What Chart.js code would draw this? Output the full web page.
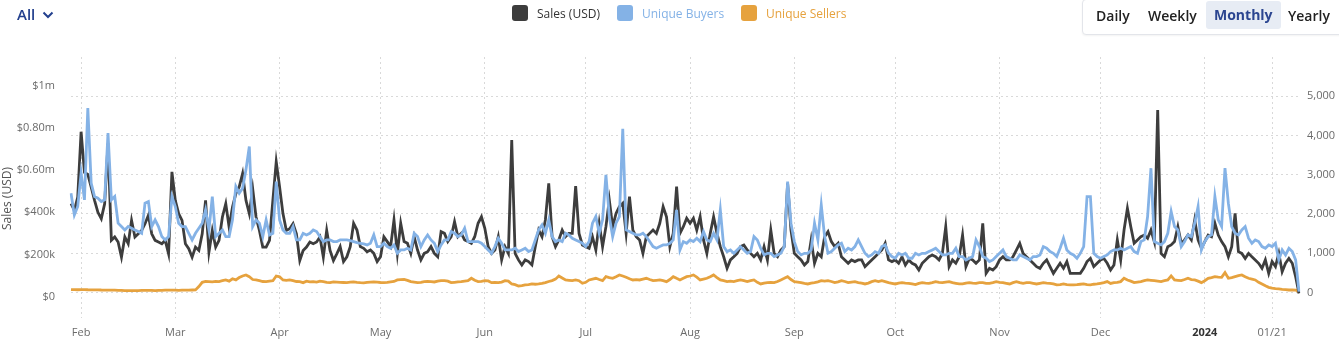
<!DOCTYPE html>
<html>
<head>
<meta charset="utf-8">
<script src="https://cdn.jsdelivr.net/npm/chart.js@4.4.1/dist/chart.umd.min.js"></script>
<style>
  html, body { margin: 0; padding: 0; background: #fff; }
  body { width: 1339px; height: 339px; position: relative; overflow: hidden; font-family: 'Open Sans', sans-serif; }
  #chart { position: absolute; left: 0; top: 0; }
  .all { position: absolute; left: 17px; top: 4px; font-size: 15px; font-weight: 600; color: #23408e; }
  .all svg { position: absolute; left: 25px; top: 7px; }
  .legend-item { position: absolute; top: 5px; height: 17px; font-size: 12px; line-height: 17px; white-space: nowrap; }
  .legend-item i { position: absolute; left: 0; top: 0; width: 16px; height: 16px; border-radius: 3px; }
  .legend-item span { position: absolute; left: 25px; top: 0; }
  .periods { position: absolute; left: 1082px; top: -1px; width: 280px; height: 34px; border: 1px solid #e3e5ea;
             border-radius: 4px; box-shadow: 0 1px 2px rgba(0,0,0,0.05); background: #fff; }
  .periods span { position: absolute; top: 6px; font-size: 14px; font-weight: 600; color: #222; }
  .periods .on { background: #e7ecf4; color: #2b4590; font-weight: 700; border-radius: 3px; top: 1px; height: 28px; line-height: 28px; }
</style>
</head>
<body>
<canvas id="chart" width="1339" height="339"></canvas>

<div class="all">All
  <svg width="12" height="8" viewBox="0 0 12 8"><polyline points="1.5,1.5 6,6 10.5,1.5" fill="none" stroke="#23408e" stroke-width="2"/></svg>
</div>

<div class="legend-item" style="left:512px"><i style="background:#3d3d3d"></i><span style="color:#333">Sales (USD)</span></div>
<div class="legend-item" style="left:617px"><i style="background:#84b2e6"></i><span style="color:#84b2e6">Unique Buyers</span></div>
<div class="legend-item" style="left:741px"><i style="background:#e6a23e"></i><span style="color:#e6a23e">Unique Sellers</span></div>

<div class="periods">
  <span style="left:13px">Daily</span>
  <span style="left:65px">Weekly</span>
  <span class="on" style="left:123px; padding:0 8px">Monthly</span>
  <span style="left:205px">Yearly</span>
</div>

<script>
// daily values, 2023-01-29 .. 2024-01-29
// sales in thousands of USD (left axis)
const salesK = [
  441, 410, 473, 783, 590, 580, 520, 457, 400, 370,
  441, 727, 267, 283, 259, 187, 283, 251, 362, 283,
  298, 314, 346, 386, 298, 267, 259, 251, 267, 203,
  592, 457, 394, 362, 251, 227, 187, 235, 219, 298,
  457, 211, 314, 235, 267, 378, 441, 330, 425, 489,
  521, 584, 457, 394, 513, 378, 314, 235, 235, 267,
  457, 640, 521, 394, 314, 322, 346, 298, 171, 219,
  235, 259, 251, 259, 283, 187, 314, 219, 171, 203,
  237, 166, 189, 237, 348, 316, 237, 229, 213, 221,
  205, 166, 189, 284, 261, 237, 364, 205, 348, 261,
  253, 205, 284, 221, 174, 205, 213, 237, 205, 189,
  308, 300, 261, 284, 356, 284, 300, 269, 261, 253,
  284, 348, 379, 324, 237, 205, 221, 284, 174, 237,
  205, 744, 205, 174, 150, 174, 166, 150, 237, 316,
  284, 364, 538, 284, 237, 269, 316, 284, 300,
  300, 525, 300, 245, 237, 229, 284, 221, 348, 237,
  332, 459, 332, 395, 427, 443, 300, 475, 316, 284,
  269, 205, 284, 300, 316, 300, 348, 427, 379, 237,
  300, 522, 300, 332, 372, 348, 372, 316, 379, 269,
  205, 300, 379, 300, 237, 189, 134, 174, 189, 205,
  237, 245, 221, 205, 189, 205, 174, 237, 174, 316,
  205, 189, 221, 237, 538, 316, 205, 189, 174, 150,
  166, 269, 158, 205, 189, 284, 308, 261, 237, 253,
  189, 174, 158, 174, 166, 174, 174, 142, 158, 174, 189,
  205, 221, 253, 174, 166, 174, 158, 189, 150, 174,
  158, 150, 126, 158, 174, 189, 197, 189, 174, 205,
  332, 142, 174, 158, 189, 292, 142, 181, 174, 158,
  174, 348, 110, 134, 126, 142, 174, 189, 174, 174,
  189, 221, 253, 205, 189, 174, 158, 142, 134, 158,
  174, 142, 110, 134, 158, 134, 166, 110, 110, 110,
  110, 134, 166, 181, 142, 158, 174, 181, 158,
  126, 150, 269, 174, 316, 419, 332, 253, 269, 284,
  292, 277, 316, 261, 886, 205, 189, 237, 245, 261,
  332, 253, 269, 292, 269, 364, 269, 229, 261, 292,
  284, 348, 292, 261, 237, 189, 237, 395, 213, 205,
  181, 205, 189, 174, 158, 134, 174, 110, 166, 142,
  205, 118, 158, 181, 158, 94, 15
];

// unique buyers (right axis)
const buyers = [
  2530, 1977, 2190, 3040, 2360, 4698, 2785, 2445, 2402, 2317,
  2360, 4060, 2360, 2445, 1765, 1680, 1594, 1680, 1637, 1594,
  1552, 1509, 2275, 2317, 1680, 1850, 1680, 1424, 1339, 1424,
  2445, 2190, 1765, 1680, 1680, 1509, 1339, 1509, 1637, 1765,
  2105, 1594, 2445, 1424, 1509, 1594, 1424, 1424, 1850, 2700,
  2530, 2657, 3125, 3720, 1680, 1850, 1765, 1424, 1850, 1467,
  1509, 2827, 1850, 1594, 1509, 1509, 1680, 1339, 1339, 1509,
  1467, 1509, 1594, 1552, 1424, 1297, 1339, 1339, 1297, 1297,
  1339, 1339, 1339, 1322, 1297, 1271, 1254, 1237, 1212, 1254,
  1467, 1169, 1169, 1254, 1169, 1127, 1212, 999, 1084, 1084,
  1127, 1084, 1509, 1424, 1169, 1339, 1467, 1339, 1254, 1042,
  1212, 1339, 1339, 1552, 1509, 1424, 1467, 1637, 1297, 1297,
  1297, 1297, 1254, 1169, 1084, 999, 1169, 1382, 1254, 1084,
  1084, 1084, 1127, 1042, 1084, 1127, 1042, 1084, 1339, 1594,
  1722, 1509, 1850, 1424, 1297, 1339, 1297, 1509, 1467,
  1382, 1339, 1297, 1254, 1169, 1297, 1765, 1935, 1509, 1850,
  2997, 1935, 1424, 1765, 1935, 4171, 1594, 1552, 1509, 1467,
  1467, 1509, 1424, 1297, 1169, 1127, 1169, 1212, 1212, 1254,
  1339, 2105, 1084, 1297, 1254, 1339, 1297, 1382, 1297, 1552,
  1339, 1297, 1509, 1339, 2105, 1169, 1042, 1084, 999, 1084,
  1169, 1084, 999, 1042, 1424, 1339, 1127, 957, 999, 999,
  914, 957, 999, 1169, 2827, 1765, 1297, 1042, 957, 999,
  999, 1084, 1765, 1339, 2232, 1424, 999, 1042, 1127, 1212,
  1254, 1042, 1127, 1084, 1169, 1339, 1169, 999, 914, 957, 1042,
  999, 1169, 1212, 999, 914, 872, 999, 957, 999, 872,
  872, 999, 957, 999, 999, 1042, 1084, 1127, 1042, 957,
  957, 999, 999, 1127, 914, 914, 829, 872, 914, 1339,
  1169, 914, 872, 787, 829, 914, 999, 1084, 914, 872,
  829, 829, 957, 914, 872, 829, 914, 914, 957, 1169,
  1127, 1042, 999, 914, 1127, 1382, 1084, 999, 957, 872,
  999, 1169, 2445, 2445, 999, 914, 872, 914, 957,
  1042, 1084, 1084, 1127, 1084, 1127, 1169, 1042, 999, 1297,
  1339, 1935, 3167, 1297, 1254, 1212, 1297, 1509, 2062, 1680,
  1594, 1169, 1297, 1467, 1424, 1765, 2190, 1084, 1297, 1424,
  1467, 2445, 1850, 1680, 3167, 2275, 1680, 1509, 1467, 1594,
  1680, 1382, 1254, 1339, 1297, 1169, 1127, 1212, 1169, 1254,
  829, 1084, 957, 1127, 1042, 829, 20
];

// unique sellers (right axis)
const sellers = [
  75, 72, 70, 72, 74, 70, 68, 66, 68, 64,
  62, 60, 60, 58, 55, 52, 50, 50, 48, 48,
  50, 52, 55, 55, 52, 50, 52, 55, 58, 60,
  60, 58, 56, 58, 60, 62, 64, 66, 150, 260,
  280, 277, 270, 285, 277, 300, 319, 290, 350, 320,
  380, 420, 447, 400, 330, 319, 300, 280, 277, 290,
  300, 421, 400, 319, 310, 319, 300, 280, 277, 251,
  290, 270, 277, 265, 290, 277, 260, 251, 270, 265,
  260, 255, 250, 262, 270, 258, 250, 245, 255, 265,
  268, 262, 255, 250, 258, 270, 280, 319, 330, 336,
  310, 277, 265, 251, 260, 277, 285, 277, 268, 290,
  302, 302, 290, 251, 260, 270, 277, 290, 300, 362,
  310, 277, 285, 302, 295, 251, 260, 251, 265, 302,
  290, 217, 200, 166, 175, 192, 200, 217, 210, 217,
  230, 251, 280, 302, 340, 421, 370, 319, 310, 302,
  319, 300, 234, 260, 319, 340, 362, 330, 302,
  404, 380, 362, 400, 447, 420, 387, 350, 319, 330,
  319, 340, 362, 330, 302, 310, 319, 300, 277, 330,
  404, 360, 319, 362, 404, 420, 447, 390, 319, 340,
  362, 400, 447, 380, 319, 300, 277, 290, 277, 300,
  319, 300, 277, 300, 319, 260, 217, 240, 251, 260,
  251, 280, 319, 360, 404, 330, 277, 265, 251, 230,
  217, 240, 251, 270, 302, 290, 302, 280, 251, 270,
  302, 280, 251, 265, 277, 251, 240, 217, 240, 277, 300,
  277, 300, 277, 251, 234, 217, 240, 251, 240, 234,
  217, 200, 230, 251, 240, 234, 251, 277, 260, 251,
  265, 277, 251, 234, 217, 217, 240, 251, 240, 234,
  251, 251, 234, 234, 251, 277, 260, 251, 234, 217,
  251, 277, 251, 234, 251, 251, 234, 217, 234, 251,
  240, 234, 217, 192, 200, 217, 200, 192, 192, 200,
  210, 217, 200, 192, 210, 217, 234, 251, 277,
  230, 251, 260, 277, 362, 319, 290, 251, 265, 277,
  300, 319, 310, 302, 290, 277, 300, 319, 421, 319,
  310, 302, 330, 362, 330, 319, 290, 251, 300, 362,
  380, 404, 390, 387, 506, 362, 380, 404, 430, 447,
  400, 362, 340, 319, 260, 217, 170, 132, 110, 98,
  90, 81, 75, 64, 64, 60, 15
];

// x tick labels (shown only on these dates)
const tickDates = ['2023-02-01', '2023-03-01', '2023-04-01', '2023-05-01', '2023-06-01', '2023-07-01',
                   '2023-08-01', '2023-09-01', '2023-10-01', '2023-11-01', '2023-12-01', '2024-01-01', '2024-01-21'];
const tickNames = ['Feb', 'Mar', 'Apr', 'May', 'Jun', 'Jul', 'Aug', 'Sep', 'Oct', 'Nov', 'Dec', '2024', '01/21'];

const leftTicks = [0, 200, 400, 600, 800, 1000];
const leftTickNames = ['$0', '$200k', '$400k', '$0.60m', '$0.80m', '$1m'];
const rightTicks = [0, 1000, 2000, 3000, 4000, 5000];

// one label per day
const start = Date.UTC(2023, 0, 29);
const dayLabels = salesK.map((_, i) => new Date(start + i * 864e5).toISOString().slice(0, 10));

const gridColor = '#d9d9d9';
const tickColor = '#6b6b6b';
const font = "'Open Sans', sans-serif";

const lineStyle = { pointRadius: 0, pointHoverRadius: 0, borderWidth: 2.8, tension: 0, fill: false };

// the rotated "Sales (USD)" title sits a little lower than the plot centre
const titleShift = {
  id: 'titleShift',
  afterLayout: chart => {
    const sc = chart.scales.y;
    if (sc._shifted) return;
    const orig = sc.drawTitle;
    sc.drawTitle = function () {
      const ctx = this.ctx;
      ctx.save();
      ctx.translate(0, 11);
      orig.apply(this, arguments);
      ctx.restore();
    };
    sc._shifted = true;
  }
};

new Chart(document.getElementById('chart'), {
  type: 'line',
  data: {
    labels: dayLabels,
    datasets: [
      // buyers drawn on top, then sales, then sellers
      { label: 'Sales (USD)', data: salesK, borderColor: '#3d3d3d', yAxisID: 'y', order: 1, ...lineStyle },
      { label: 'Unique Buyers', data: buyers, borderColor: '#84b2e6', yAxisID: 'y1', order: 0, ...lineStyle },
      { label: 'Unique Sellers', data: sellers, borderColor: '#e6a23e', yAxisID: 'y1', order: 2, ...lineStyle }
    ]
  },
  plugins: [titleShift],
  options: {
    responsive: false,
    animation: false,
    layout: { padding: { top: 57, left: 0, right: 0, bottom: 0 } },
    plugins: { legend: { display: false }, tooltip: { enabled: false } },
    scales: {
      x: {
        type: 'category',
        offset: false,
        afterBuildTicks: s => { s.ticks = tickDates.map(d => ({ value: dayLabels.indexOf(d) })); },
        afterFit: s => { s.height = 21; },
        grid: { color: gridColor, drawTicks: false },
        border: { display: false, dash: [2, 3] },
        ticks: {
          autoSkip: false, maxRotation: 0, minRotation: 0, padding: 8,
          color: ctx => ctx.tick && ctx.tick.label === '2024' ? '#333' : tickColor,
          font: ctx => ({ family: font, size: 11, weight: ctx.tick && ctx.tick.label === '2024' ? 'bold' : 'normal' }),
          callback: v => tickNames[tickDates.indexOf(dayLabels[v])]
        }
      },
      y: {
        position: 'left',
        min: -102, max: 1138,
        afterBuildTicks: s => { s.ticks = leftTicks.map(v => ({ value: v })); },
        afterFit: s => { s.width = 71; },
        grid: { display: false },
        border: { display: false },
        title: { display: true, text: 'Sales (USD)', color: '#555', font: { family: font, size: 12 }, padding: 0 },
        ticks: {
          padding: 8, color: tickColor, font: { family: font, size: 11 },
          callback: v => leftTickNames[leftTicks.indexOf(v)]
        }
      },
      y1: {
        position: 'right',
        min: -650, max: 6000,
        afterBuildTicks: s => { s.ticks = rightTicks.map(v => ({ value: v })); },
        afterFit: s => { s.width = 40; },
        grid: { color: gridColor, drawTicks: false },
        border: { display: false, dash: [2, 3] },
        ticks: {
          padding: 8, color: tickColor, font: { family: font, size: 11 },
          callback: v => v.toLocaleString('en-US')
        }
      }
    }
  }
});
</script>
</body>
</html>
